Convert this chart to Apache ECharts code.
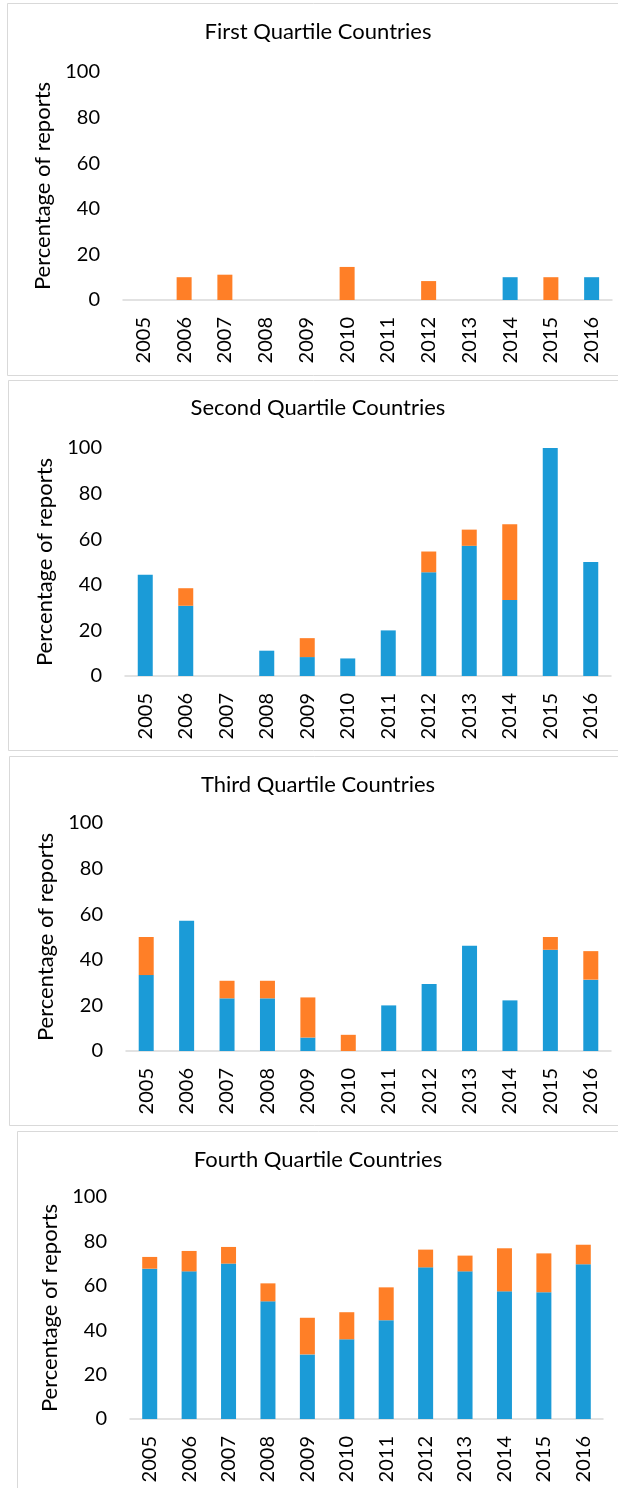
<!DOCTYPE html>
<html>
<head>
<meta charset="utf-8">
<script src="https://cdn.jsdelivr.net/npm/echarts@6/dist/echarts.min.js"></script>
<style>
html,body{margin:0;padding:0;background:#fff;}
#chart{width:618px;height:1488px;}
</style>
</head>
<body>
<div id="chart"></div>
<script>
// ---- data ----
const years = ['2005','2006','2007','2008','2009','2010','2011','2012','2013','2014','2015','2016'];
const yTicks = [0, 20, 40, 60, 80, 100];
const panelTitles = ['First Quartile Countries','Second Quartile Countries','Third Quartile Countries','Fourth Quartile Countries'];
const yAxisTitle = 'Percentage of reports';

const q1Blue   = [0, 0, 0, 0, 0, 0, 0, 0, 0, 10, 0, 10];
const q1Orange = [0, 10, 11.1, 0, 0, 14.5, 0, 8.3, 0, 0, 10, 0];

const q2Blue   = [44.4, 30.8, 0, 11.1, 8.3, 7.7, 20, 45.5, 57.1, 33.3, 100, 50];
const q2Orange = [0, 7.7, 0, 0, 8.3, 0, 0, 9.1, 7.1, 33.3, 0, 0];

const q3Blue   = [33.3, 57.1, 23.1, 23.1, 5.9, 0, 20, 29.4, 46.2, 22.2, 44.4, 31.3];
const q3Orange = [16.7, 0, 7.7, 7.7, 17.6, 7.1, 0, 0, 0, 0, 5.6, 12.5];

const q4Blue   = [67.7, 66.5, 70, 53, 29.1, 35.9, 44.5, 68.3, 66.5, 57.5, 57.1, 69.7];
const q4Orange = [5.3, 9.2, 7.5, 8.1, 16.5, 12.2, 14.8, 8, 7.1, 19.4, 17.5, 8.8];

// ---- layout / style ----
const BLUE = '#1B9BD7', ORANGE = '#FF7F27';
const FONT = 'Lato, "Open Sans", sans-serif';
const panels = [
  {blue:q1Blue, orange:q1Orange, grid:{left:123, top:72,   width:489, height:228}, box:{x:7,  y:3,    h:372}, titleY:32},
  {blue:q2Blue, orange:q2Orange, grid:{left:125, top:448,  width:486, height:228}, box:{x:8,  y:380,  h:370}, titleY:408},
  {blue:q3Blue, orange:q3Orange, grid:{left:126, top:823,  width:485, height:228}, box:{x:9,  y:756,  h:369}, titleY:785},
  {blue:q4Blue, orange:q4Orange, grid:{left:130, top:1197, width:473, height:222}, box:{x:17, y:1131, h:400}, titleY:1160}
];

const chart = echarts.init(document.getElementById('chart'));
const option = {
  animation:false,
  backgroundColor:'#fff',
  title:[], grid:[], xAxis:[], yAxis:[], series:[],
  graphic:[]
};
panels.forEach((p, i) => {
  option.graphic.push({
    type:'rect', silent:true, z:-10,
    shape:{x:p.box.x + 0.5, y:p.box.y + 0.5, width:640, height:p.box.h},
    style:{fill:'#fff', stroke:'#D9D9D9', lineWidth:1}
  });
  option.title.push({
    text:panelTitles[i], left:318, top:p.titleY, textAlign:'center', textVerticalAlign:'middle', padding:0,
    textStyle:{fontFamily:FONT, fontSize:22, fontWeight:'normal', color:'#000'}
  });
  option.grid.push(Object.assign({containLabel:false}, p.grid));
  option.xAxis.push({
    type:'category', gridIndex:i, data:years,
    axisLine:{show:true, lineStyle:{color:'#D9D9D9', width:1.5}},
    axisTick:{show:false},
    axisLabel:{rotate:90, margin:17, fontFamily:FONT, fontSize:20, color:'#000', interval:0}
  });
  option.yAxis.push({
    type:'value', gridIndex:i, min:yTicks[0], max:yTicks[yTicks.length-1], interval:20,
    name:yAxisTitle, nameLocation:'middle', nameRotate:90, nameGap:69,
    nameTextStyle:{fontFamily:FONT, fontSize:22, color:'#000'},
    axisLine:{show:false}, axisTick:{show:false}, splitLine:{show:false},
    axisLabel:{margin:23, fontFamily:FONT, fontSize:20, color:'#000'}
  });
  option.series.push({
    type:'bar', name:'Blue', stack:'s'+i, xAxisIndex:i, yAxisIndex:i, data:p.blue,
    barWidth:15, itemStyle:{color:BLUE}
  });
  option.series.push({
    type:'bar', name:'Orange', stack:'s'+i, xAxisIndex:i, yAxisIndex:i, data:p.orange,
    barWidth:15, itemStyle:{color:ORANGE}
  });
});
chart.setOption(option);
</script>
</body>
</html>
